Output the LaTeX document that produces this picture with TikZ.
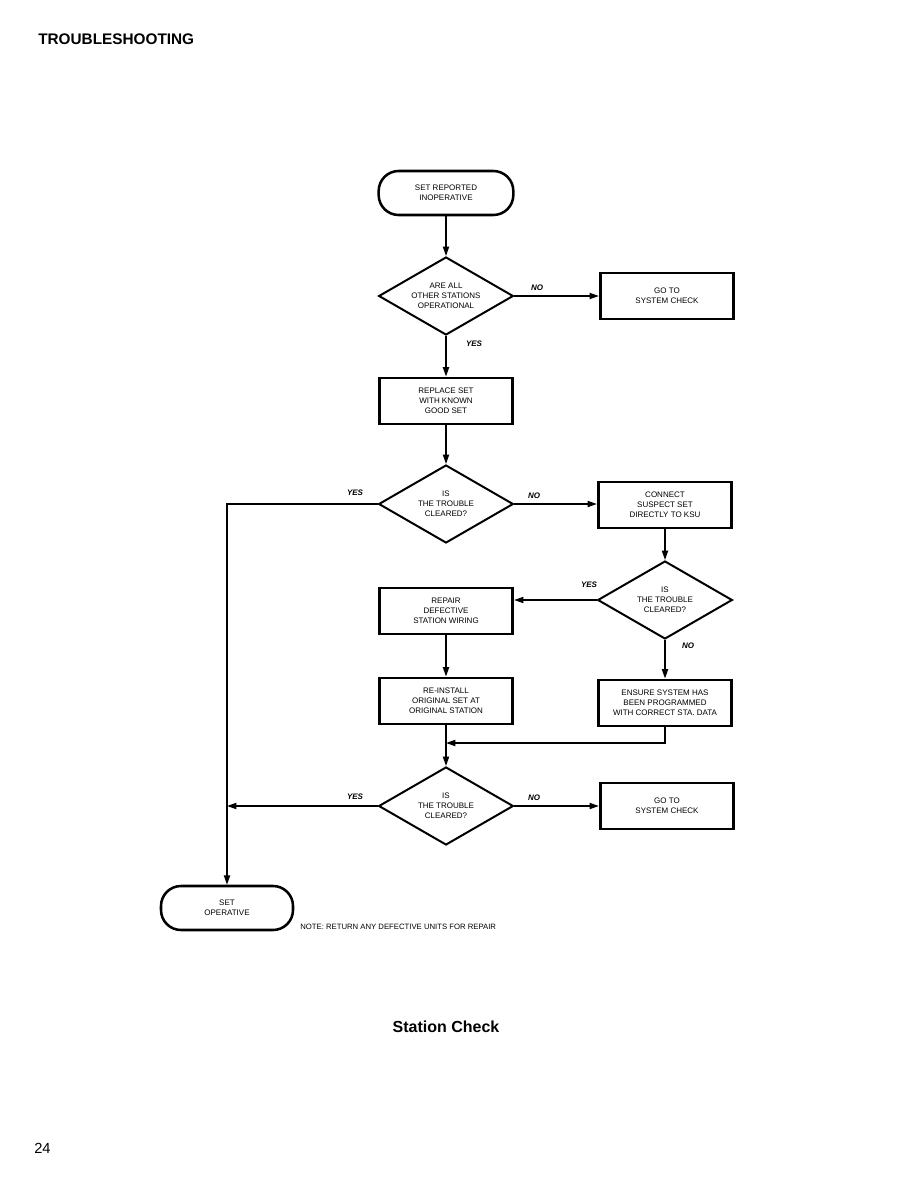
\documentclass[tikz,border=0pt]{standalone}
\usepackage{fontspec}
\setmainfont{Liberation Sans}
\usetikzlibrary{arrows.meta,shapes.geometric}
\begin{document}
\begin{tikzpicture}[x=0.75pt,y=-0.75pt,
  txt/.style={font=\fontsize{6}{7.6}\selectfont, align=center},
  procbox/.style={txt, draw, line width=2.2pt, minimum width=100pt, minimum height=34.5pt, inner sep=0pt},
  decision/.style={txt, draw, diamond, aspect=1.8, line width=1.5pt, minimum width=101pt, minimum height=58.5pt, inner sep=0pt},
  terminal/.style={txt, draw, line width=1.9pt, rounded corners=15pt, minimum width=101pt, minimum height=33pt, inner sep=0pt},
  conn/.style={line width=1.1pt},
  arr/.style={conn, -{Triangle[length=7pt,width=4.6pt]}},
  lbl/.style={font=\fontsize{6}{7}\selectfont\bfseries\itshape}
]
\useasboundingbox (0,0) rectangle (918,1188);

% page texts
\node[anchor=west, font=\fontsize{11.5}{13}\selectfont\bfseries, inner sep=0pt] (title) at (38,39) {TROUBLESHOOTING};
\node[font=\fontsize{12}{14}\selectfont\bfseries, inner sep=0pt] (caption) at (446,1027) {Station Check};
\node[anchor=west, font=\fontsize{11}{13}\selectfont, inner sep=0pt] (pageno) at (34,1148) {24};

% nodes
\node[terminal] (t1) at (446,193) {SET REPORTED\\INOPERATIVE};
\node[decision] (d1) at (446,296) {ARE ALL\\OTHER STATIONS\\OPERATIONAL};
\node[procbox] (g1) at (667,296) {GO TO\\SYSTEM CHECK};
\node[procbox] (rs) at (446,401) {REPLACE SET\\WITH KNOWN\\GOOD SET};
\node[decision] (d2) at (446,504) {IS\\THE TROUBLE\\CLEARED?};
\node[procbox] (cs) at (665,505) {CONNECT\\SUSPECT SET\\DIRECTLY TO KSU};
\node[decision] (d3) at (665,600) {IS\\THE TROUBLE\\CLEARED?};
\node[procbox] (rp) at (446,611) {REPAIR\\DEFECTIVE\\STATION WIRING};
\node[procbox] (ri) at (446,701) {RE-INSTALL\\ORIGINAL SET AT\\ORIGINAL STATION};
\node[procbox] (en) at (665,703) {ENSURE SYSTEM HAS\\BEEN PROGRAMMED\\WITH CORRECT STA. DATA};
\node[decision] (d4) at (446,806) {IS\\THE TROUBLE\\CLEARED?};
\node[procbox] (g2) at (667,806) {GO TO\\SYSTEM CHECK};
\node[terminal, minimum width=99pt] (t2) at (227,908) {SET\\OPERATIVE};
\coordinate (J) at (446,743);

% connectors
\draw[arr] (t1.south) -- (d1.north);
\draw[arr] (d1.east) -- (g1.west);
\draw[arr] (d1.south) -- (rs.north);
\draw[arr] (rs.south) -- (d2.north);
\draw[arr] (d2.east) -- (d2.east -| cs.west);
\draw[arr] (d2.west) -| (t2.north);
\draw[arr] (cs.south) -- (d3.north);
\draw[arr] (d3.west) -- (d3.west -| rp.east);
\draw[arr] (d3.south) -- (en.north);
\draw[arr] (rp.south) -- (ri.north);
\draw[arr] (en.south) |- (J);
\draw[arr] (ri.south) -- (d4.north);
\draw[arr] (d4.east) -- (g2.west);
\draw[arr] (d4.west) -- (d4.west -| t2.north);

% labels
\node[lbl] (n1) at (537,288) {NO};
\node[lbl] (y1) at (474,344) {YES};
\node[lbl] (y2) at (355,493) {YES};
\node[lbl] (n2) at (534,496) {NO};
\node[lbl] (y3) at (589,585) {YES};
\node[lbl] (n3) at (688,646) {NO};
\node[lbl] (y4) at (355,797) {YES};
\node[lbl] (n4) at (534,798) {NO};

\node[anchor=west, font=\fontsize{5.8}{7}\selectfont, inner sep=0pt] (note) at (300,927) {NOTE: RETURN ANY DEFECTIVE UNITS FOR REPAIR};
\end{tikzpicture}
\end{document}
